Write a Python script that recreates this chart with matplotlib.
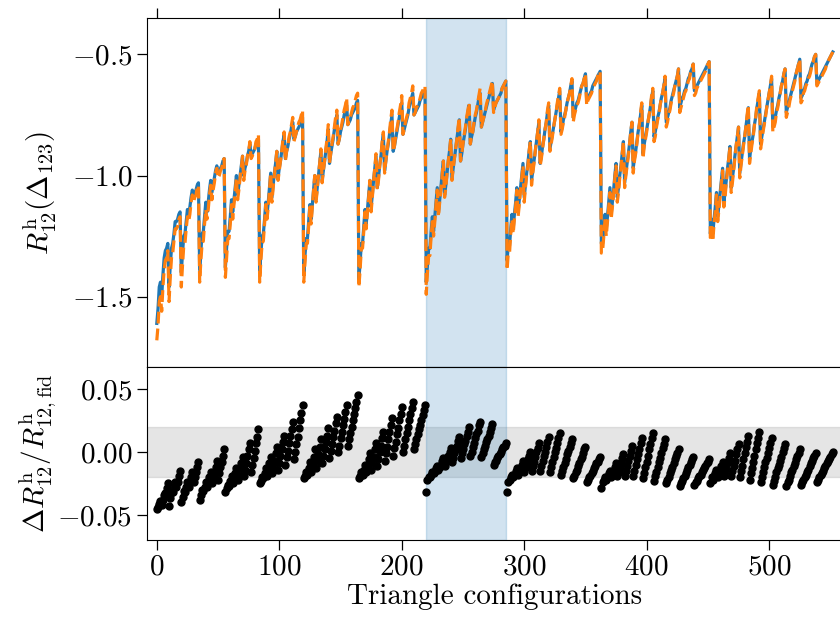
import matplotlib
matplotlib.use("Agg")
import matplotlib.pyplot as plt
import numpy as np

plt.rcParams.update({
    "font.family": "serif",
    "font.serif": ["cmr10"],
    "mathtext.fontset": "cm",
    "axes.formatter.use_mathtext": True,
    "font.size": 21,
})

# one inner list per k1 bin, triangles ordered by k2 then k3
r12_model = [
    [-1.61],
    [-1.55, -1.46, -1.44],
    [-1.50, -1.41, -1.34, -1.31, -1.30, -1.28],
    [-1.46, -1.37, -1.30, -1.28, -1.24, -1.19, -1.19, -1.18, -1.16, -1.15],
    [-1.40, -1.32, -1.25, -1.24, -1.19, -1.14, -1.16, -1.13, -1.09, -1.06, -1.08, -1.07, -1.06, -1.04, -1.03],
    [-1.39, -1.31, -1.24, -1.23, -1.17, -1.11, -1.15, -1.11, -1.06, -1.02, -1.07, -1.04, -1.01, -0.98, -0.96,
     -0.99, -0.98, -0.97, -0.96, -0.94, -0.93],
    [-1.38, -1.30, -1.23, -1.23, -1.17, -1.10, -1.15, -1.10, -1.05, -1.00, -1.08, -1.04, -1.00, -0.96, -0.92,
     -1.00, -0.97, -0.95, -0.92, -0.90, -0.87, -0.92, -0.91, -0.90, -0.89, -0.87, -0.86, -0.85],
    [-1.40, -1.32, -1.25, -1.24, -1.18, -1.11, -1.16, -1.11, -1.05, -0.99, -1.09, -1.04, -0.99, -0.95, -0.90,
     -1.01, -0.97, -0.94, -0.90, -0.86, -0.83, -0.93, -0.90, -0.88, -0.85, -0.83, -0.80, -0.78, -0.85, -0.84,
     -0.82, -0.81, -0.80, -0.79, -0.77, -0.76],
    [-1.41, -1.33, -1.26, -1.26, -1.19, -1.12, -1.18, -1.12, -1.06, -1.00, -1.10, -1.05, -1.00, -0.95, -0.90,
     -1.02, -0.98, -0.94, -0.90, -0.86, -0.81, -0.95, -0.91, -0.88, -0.85, -0.81, -0.78, -0.75, -0.87, -0.85,
     -0.82, -0.80, -0.78, -0.75, -0.73, -0.71, -0.79, -0.78, -0.77, -0.75, -0.74, -0.73, -0.72, -0.70, -0.69],
    [-1.43, -1.36, -1.28, -1.28, -1.21, -1.14, -1.20, -1.14, -1.08, -1.02, -1.13, -1.08, -1.02, -0.97, -0.92,
     -1.05, -1.01, -0.96, -0.92, -0.87, -0.83, -0.98, -0.94, -0.90, -0.87, -0.83, -0.79, -0.75, -0.90, -0.88,
     -0.85, -0.82, -0.79, -0.76, -0.73, -0.70, -0.83, -0.81, -0.79, -0.77, -0.75, -0.72, -0.70, -0.68, -0.66,
     -0.75, -0.74, -0.73, -0.72, -0.71, -0.69, -0.68, -0.67, -0.66, -0.65],
    [-1.44, -1.37, -1.30, -1.30, -1.23, -1.17, -1.23, -1.17, -1.11, -1.05, -1.15, -1.10, -1.05, -0.99, -0.94,
     -1.08, -1.04, -0.99, -0.94, -0.90, -0.85, -1.01, -0.97, -0.93, -0.89, -0.85, -0.81, -0.77, -0.94, -0.91,
     -0.87, -0.84, -0.81, -0.77, -0.74, -0.71, -0.87, -0.84, -0.82, -0.79, -0.76, -0.74, -0.71, -0.68, -0.66,
     -0.80, -0.78, -0.76, -0.74, -0.72, -0.70, -0.68, -0.66, -0.64, -0.62, -0.73, -0.71, -0.70, -0.69, -0.68,
     -0.67, -0.66, -0.64, -0.63, -0.62, -0.61],
    [-1.35, -1.29, -1.29, -1.22, -1.16, -1.22, -1.16, -1.11, -1.05, -1.15, -1.10, -1.05, -1.00, -0.95, -1.09,
     -1.04, -0.99, -0.95, -0.90, -0.86, -1.02, -0.98, -0.94, -0.90, -0.86, -0.82, -0.78, -0.95, -0.92, -0.88,
     -0.85, -0.81, -0.78, -0.74, -0.71, -0.89, -0.86, -0.83, -0.80, -0.77, -0.74, -0.71, -0.68, -0.65, -0.82,
     -0.80, -0.77, -0.75, -0.73, -0.70, -0.68, -0.66, -0.63, -0.61, -0.76, -0.74, -0.72, -0.70, -0.69, -0.67,
     -0.65, -0.63, -0.62, -0.60, -0.58, -0.69, -0.68, -0.67, -0.66, -0.65, -0.63, -0.62, -0.61, -0.60, -0.59,
     -0.58, -0.57],
    [-1.28, -1.28, -1.22, -1.16, -1.22, -1.17, -1.11, -1.05, -1.16, -1.11, -1.06, -1.00, -0.95, -1.09, -1.05,
     -1.00, -0.96, -0.91, -0.86, -1.03, -0.99, -0.95, -0.91, -0.87, -0.82, -0.78, -0.97, -0.93, -0.90, -0.86,
     -0.82, -0.79, -0.75, -0.71, -0.91, -0.87, -0.84, -0.81, -0.78, -0.75, -0.72, -0.68, -0.65, -0.84, -0.82,
     -0.79, -0.76, -0.74, -0.71, -0.68, -0.66, -0.63, -0.60, -0.78, -0.76, -0.74, -0.72, -0.69, -0.67, -0.65,
     -0.63, -0.61, -0.59, -0.56, -0.72, -0.70, -0.68, -0.67, -0.65, -0.64, -0.62, -0.60, -0.59, -0.57, -0.56,
     -0.54, -0.65, -0.64, -0.63, -0.62, -0.61, -0.60, -0.59, -0.58, -0.57, -0.56, -0.55, -0.54, -0.53],
    [-1.24, -1.18, -1.24, -1.18, -1.13, -1.07, -1.17, -1.12, -1.07, -1.02, -0.97, -1.11, -1.07, -1.02, -0.97,
     -0.93, -0.88, -1.05, -1.01, -0.97, -0.92, -0.88, -0.84, -0.80, -0.99, -0.95, -0.91, -0.87, -0.84, -0.80,
     -0.76, -0.72, -0.93, -0.89, -0.86, -0.83, -0.79, -0.76, -0.72, -0.69, -0.66, -0.87, -0.84, -0.81, -0.78,
     -0.75, -0.72, -0.69, -0.66, -0.63, -0.60, -0.80, -0.78, -0.76, -0.73, -0.71, -0.68, -0.66, -0.63, -0.61,
     -0.58, -0.56, -0.74, -0.72, -0.70, -0.68, -0.66, -0.64, -0.62, -0.60, -0.58, -0.56, -0.54, -0.52, -0.68,
     -0.67, -0.65, -0.64, -0.62, -0.61, -0.59, -0.58, -0.56, -0.54, -0.53, -0.51, -0.50, -0.62, -0.61, -0.60,
     -0.59, -0.58, -0.57, -0.56, -0.55, -0.54, -0.53, -0.52, -0.51, -0.50, -0.49],
]

r12_fid = [
    [-1.68],
    [-1.62, -1.52, -1.50],
    [-1.56, -1.46, -1.39, -1.35, -1.34, -1.31],
    [-1.52, -1.42, -1.34, -1.32, -1.27, -1.22, -1.22, -1.21, -1.18, -1.17],
    [-1.46, -1.37, -1.29, -1.28, -1.22, -1.17, -1.19, -1.16, -1.11, -1.08, -1.11, -1.09, -1.08, -1.05, -1.04],
    [-1.44, -1.35, -1.28, -1.27, -1.20, -1.14, -1.18, -1.14, -1.08, -1.04, -1.10, -1.06, -1.03, -0.99, -0.97,
     -1.01, -1.00, -0.98, -0.97, -0.94, -0.93],
    [-1.42, -1.34, -1.26, -1.26, -1.20, -1.12, -1.18, -1.12, -1.07, -1.01, -1.10, -1.06, -1.01, -0.97, -0.92,
     -1.02, -0.98, -0.96, -0.92, -0.90, -0.86, -0.93, -0.92, -0.90, -0.89, -0.86, -0.85, -0.83],
    [-1.44, -1.35, -1.28, -1.27, -1.20, -1.12, -1.18, -1.13, -1.06, -0.99, -1.11, -1.05, -1.00, -0.95, -0.90,
     -1.02, -0.98, -0.94, -0.90, -0.85, -0.82, -0.94, -0.90, -0.88, -0.84, -0.82, -0.79, -0.76, -0.86, -0.84,
     -0.82, -0.80, -0.78, -0.77, -0.75, -0.73],
    [-1.44, -1.36, -1.28, -1.28, -1.21, -1.13, -1.20, -1.13, -1.06, -1.00, -1.11, -1.06, -1.00, -0.95, -0.89,
     -1.03, -0.98, -0.94, -0.89, -0.85, -0.79, -0.95, -0.91, -0.87, -0.84, -0.80, -0.76, -0.73, -0.87, -0.85,
     -0.81, -0.79, -0.76, -0.73, -0.71, -0.68, -0.79, -0.77, -0.76, -0.74, -0.72, -0.71, -0.69, -0.67, -0.66],
    [-1.46, -1.39, -1.30, -1.30, -1.23, -1.15, -1.22, -1.15, -1.09, -1.02, -1.15, -1.09, -1.02, -0.97, -0.91,
     -1.06, -1.02, -0.96, -0.92, -0.86, -0.82, -0.99, -0.94, -0.90, -0.86, -0.82, -0.77, -0.73, -0.90, -0.88,
     -0.84, -0.81, -0.78, -0.74, -0.71, -0.67, -0.83, -0.81, -0.78, -0.76, -0.74, -0.70, -0.68, -0.66, -0.63,
     -0.75, -0.74, -0.72, -0.71, -0.70, -0.68, -0.66, -0.65, -0.64, -0.63],
    [-1.49, -1.40, -1.33, -1.33, -1.25, -1.19, -1.25, -1.19, -1.12, -1.06, -1.17, -1.11, -1.06, -1.00, -0.94,
     -1.09, -1.05, -0.99, -0.94, -0.90, -0.85, -1.02, -0.97, -0.93, -0.89, -0.85, -0.80, -0.76, -0.94, -0.91,
     -0.87, -0.83, -0.80, -0.76, -0.73, -0.70, -0.87, -0.84, -0.82, -0.78, -0.75, -0.73, -0.70, -0.67, -0.64,
     -0.80, -0.78, -0.76, -0.74, -0.71, -0.69, -0.67, -0.65, -0.63, -0.61, -0.74, -0.72, -0.70, -0.69, -0.68,
     -0.67, -0.66, -0.64, -0.63, -0.62, -0.61],
    [-1.39, -1.32, -1.32, -1.24, -1.18, -1.24, -1.18, -1.13, -1.06, -1.17, -1.12, -1.06, -1.01, -0.96, -1.11,
     -1.05, -1.00, -0.96, -0.90, -0.86, -1.04, -0.99, -0.95, -0.90, -0.86, -0.82, -0.77, -0.96, -0.93, -0.89,
     -0.85, -0.81, -0.78, -0.73, -0.70, -0.90, -0.87, -0.84, -0.80, -0.77, -0.74, -0.70, -0.67, -0.64, -0.83,
     -0.81, -0.78, -0.76, -0.73, -0.70, -0.68, -0.66, -0.63, -0.60, -0.78, -0.75, -0.73, -0.71, -0.70, -0.68,
     -0.65, -0.63, -0.62, -0.60, -0.58, -0.71, -0.69, -0.68, -0.67, -0.66, -0.64, -0.63, -0.62, -0.61, -0.59,
     -0.58, -0.57],
    [-1.32, -1.31, -1.25, -1.18, -1.25, -1.19, -1.13, -1.07, -1.18, -1.13, -1.08, -1.01, -0.96, -1.11, -1.07,
     -1.01, -0.97, -0.91, -0.86, -1.05, -1.00, -0.96, -0.92, -0.87, -0.82, -0.78, -0.99, -0.94, -0.91, -0.87,
     -0.82, -0.79, -0.74, -0.70, -0.93, -0.88, -0.85, -0.82, -0.78, -0.75, -0.72, -0.67, -0.64, -0.86, -0.84,
     -0.80, -0.77, -0.75, -0.71, -0.68, -0.66, -0.63, -0.59, -0.80, -0.78, -0.75, -0.73, -0.70, -0.68, -0.66,
     -0.63, -0.61, -0.59, -0.56, -0.74, -0.72, -0.70, -0.68, -0.66, -0.65, -0.63, -0.61, -0.60, -0.57, -0.56,
     -0.54, -0.67, -0.66, -0.64, -0.63, -0.62, -0.61, -0.60, -0.59, -0.58, -0.57, -0.55, -0.54, -0.53],
    [-1.27, -1.20, -1.27, -1.20, -1.15, -1.08, -1.19, -1.14, -1.09, -1.03, -0.98, -1.13, -1.09, -1.03, -0.98,
     -0.93, -0.88, -1.07, -1.03, -0.98, -0.93, -0.88, -0.84, -0.80, -1.01, -0.96, -0.92, -0.88, -0.84, -0.80,
     -0.75, -0.71, -0.95, -0.91, -0.87, -0.84, -0.79, -0.76, -0.71, -0.68, -0.65, -0.89, -0.86, -0.82, -0.79,
     -0.76, -0.72, -0.69, -0.66, -0.63, -0.59, -0.82, -0.80, -0.78, -0.74, -0.72, -0.69, -0.66, -0.63, -0.61,
     -0.58, -0.56, -0.76, -0.74, -0.72, -0.69, -0.67, -0.65, -0.63, -0.61, -0.58, -0.56, -0.54, -0.52, -0.70,
     -0.69, -0.66, -0.65, -0.63, -0.62, -0.60, -0.59, -0.57, -0.54, -0.53, -0.51, -0.50, -0.63, -0.62, -0.61,
     -0.60, -0.59, -0.58, -0.57, -0.56, -0.54, -0.53, -0.52, -0.51, -0.50, -0.49],
]

rel_diff = [
    [-0.045],
    [-0.044, -0.041, -0.039],
    [-0.042, -0.038, -0.034, -0.033, -0.029, -0.025],
    [-0.043, -0.037, -0.033, -0.032, -0.028, -0.024, -0.028, -0.024, -0.019, -0.015],
    [-0.040, -0.036, -0.031, -0.032, -0.028, -0.024, -0.028, -0.024, -0.020, -0.016, -0.024, -0.020, -0.016,
     -0.012, -0.008],
    [-0.038, -0.034, -0.030, -0.031, -0.028, -0.024, -0.028, -0.024, -0.020, -0.016, -0.025, -0.021, -0.016,
     -0.012, -0.007, -0.022, -0.017, -0.012, -0.008, -0.003, 0.002],
    [-0.032, -0.029, -0.026, -0.027, -0.023, -0.019, -0.025, -0.021, -0.017, -0.013, -0.022, -0.018, -0.013,
     -0.009, -0.004, -0.019, -0.014, -0.009, -0.003, 0.002, 0.007, -0.016, -0.010, -0.005, 0.001, 0.007,
     0.012, 0.018],
    [-0.025, -0.023, -0.020, -0.021, -0.017, -0.013, -0.019, -0.014, -0.009, -0.004, -0.017, -0.012, -0.007,
     -0.001, 0.004, -0.014, -0.009, -0.003, 0.002, 0.008, 0.013, -0.010, -0.004, 0.001, 0.007, 0.013, 0.018,
     0.024, -0.006, 0.000, 0.006, 0.012, 0.019, 0.025, 0.031, 0.037],
    [-0.021, -0.019, -0.016, -0.018, -0.013, -0.008, -0.016, -0.010, -0.004, 0.002, -0.013, -0.007, -0.002,
     0.004, 0.010, -0.009, -0.003, 0.002, 0.008, 0.013, 0.019, -0.005, 0.001, 0.006, 0.012, 0.017, 0.023,
     0.028, 0.000, 0.005, 0.011, 0.016, 0.021, 0.026, 0.032, 0.037, 0.005, 0.010, 0.015, 0.020, 0.025, 0.030,
     0.035, 0.040, 0.045],
    [-0.021, -0.019, -0.016, -0.018, -0.014, -0.010, -0.016, -0.011, -0.006, -0.001, -0.014, -0.009, -0.004,
     0.002, 0.007, -0.011, -0.006, 0.000, 0.005, 0.011, 0.016, -0.007, -0.001, 0.004, 0.010, 0.016, 0.021,
     0.027, -0.003, 0.003, 0.008, 0.014, 0.019, 0.025, 0.030, 0.036, 0.000, 0.005, 0.010, 0.015, 0.020, 0.025,
     0.030, 0.035, 0.040, 0.002, 0.006, 0.010, 0.014, 0.018, 0.021, 0.025, 0.029, 0.033, 0.037],
    [-0.032, -0.022, -0.020, -0.020, -0.018, -0.016, -0.017, -0.015, -0.013, -0.011, -0.014, -0.012, -0.010,
     -0.007, -0.005, -0.011, -0.008, -0.005, -0.003, 0.000, 0.003, -0.008, -0.005, -0.001, 0.002, 0.005, 0.009,
     0.012, -0.005, -0.001, 0.002, 0.006, 0.009, 0.013, 0.016, 0.020, -0.003, 0.000, 0.004, 0.007, 0.011,
     0.014, 0.017, 0.021, 0.024, -0.004, -0.001, 0.002, 0.005, 0.008, 0.010, 0.013, 0.016, 0.019, 0.022,
     -0.010, -0.008, -0.007, -0.005, -0.003, -0.002, 0.000, 0.002, 0.004, 0.005, 0.007],
    [-0.032, -0.024, -0.022, -0.020, -0.018, -0.020, -0.018, -0.015, -0.013, -0.018, -0.015, -0.013, -0.010,
     -0.007, -0.016, -0.013, -0.010, -0.006, -0.003, 0.000, -0.015, -0.011, -0.008, -0.004, 0.000, 0.003, 0.007,
     -0.015, -0.011, -0.007, -0.003, 0.000, 0.004, 0.008, 0.012, -0.016, -0.012, -0.008, -0.004, 0.000, 0.003,
     0.007, 0.011, 0.015, -0.018, -0.015, -0.012, -0.009, -0.006, -0.002, 0.001, 0.004, 0.007, 0.010, -0.021,
     -0.019, -0.016, -0.014, -0.011, -0.009, -0.006, -0.004, -0.001, 0.002, 0.004, -0.024, -0.022, -0.020,
     -0.019, -0.017, -0.015, -0.013, -0.011, -0.009, -0.008, -0.006, -0.004],
    [-0.029, -0.024, -0.022, -0.020, -0.022, -0.020, -0.017, -0.015, -0.020, -0.017, -0.015, -0.012, -0.009,
     -0.019, -0.016, -0.012, -0.009, -0.005, -0.002, -0.019, -0.015, -0.011, -0.007, -0.003, 0.001, 0.005,
     -0.019, -0.015, -0.010, -0.006, -0.002, 0.002, 0.007, 0.011, -0.021, -0.017, -0.012, -0.008, -0.003, 0.002,
     0.006, 0.011, 0.015, -0.023, -0.019, -0.016, -0.012, -0.008, -0.005, -0.001, 0.003, 0.006, 0.010, -0.025,
     -0.022, -0.020, -0.017, -0.014, -0.012, -0.009, -0.006, -0.003, -0.001, 0.002, -0.027, -0.025, -0.023,
     -0.021, -0.019, -0.017, -0.014, -0.012, -0.010, -0.008, -0.006, -0.004, -0.026, -0.024, -0.023, -0.021,
     -0.019, -0.018, -0.016, -0.014, -0.013, -0.011, -0.009, -0.008, -0.006],
    [-0.025, -0.020, -0.022, -0.019, -0.017, -0.014, -0.020, -0.017, -0.014, -0.011, -0.008, -0.019, -0.015,
     -0.012, -0.008, -0.005, -0.001, -0.019, -0.015, -0.011, -0.007, -0.002, 0.002, 0.006, -0.020, -0.015,
     -0.011, -0.006, -0.001, 0.004, 0.008, 0.013, -0.022, -0.017, -0.013, -0.008, -0.003, 0.002, 0.007, 0.011,
     0.016, -0.024, -0.020, -0.016, -0.012, -0.008, -0.005, -0.001, 0.003, 0.007, 0.011, -0.026, -0.023,
     -0.020, -0.016, -0.013, -0.010, -0.007, -0.004, 0.000, 0.003, 0.006, -0.027, -0.024, -0.022, -0.019,
     -0.016, -0.014, -0.011, -0.009, -0.006, -0.003, -0.001, 0.002, -0.026, -0.024, -0.022, -0.020, -0.018,
     -0.016, -0.014, -0.011, -0.009, -0.007, -0.005, -0.003, -0.001, -0.024, -0.022, -0.020, -0.018, -0.017,
     -0.015, -0.013, -0.011, -0.009, -0.007, -0.006, -0.004, -0.002, 0.000],
]

highlight = (220, 285)   # k1 bin shown in blue
tolerance = 0.02

model = np.concatenate(r12_model)
fid = np.concatenate(r12_fid)
diff = np.concatenate(rel_diff)

fig = plt.figure(figsize=(8.4, 6.17), dpi=100)
ax1 = fig.add_axes([0.175, 0.4052, 0.8274, 0.5656])
ax2 = fig.add_axes([0.175, 0.1248, 0.8274, 0.2804])

ax1.plot(np.arange(len(model)), model, color='C0', lw=2.3)
ax1.plot(np.arange(len(fid)), fid, color='C1', lw=2.3, ls='--')
ax1.axvspan(*highlight, color='C0', alpha=0.2)

ax2.axhspan(-tolerance, tolerance, color='grey', alpha=0.2)
ax2.axvspan(*highlight, color='C0', alpha=0.2)
ax2.plot(np.arange(len(diff)), diff, 'o', color='k', ms=5, zorder=3)

for ax in (ax1, ax2):
    ax.set_xlim(-8, 559.5)
    ax.set_xticks([0, 100, 200, 300, 400, 500])
    ax.tick_params(direction='out', length=7, width=0.9)

ax1.set_ylim(-1.79, -0.35)
ax1.set_yticks([-1.5, -1.0, -0.5])
ax1.tick_params(axis='x', bottom=False, labelbottom=False, top=True, labeltop=False)

ax2.set_ylim(-0.07, 0.0675)
ax2.set_yticks([-0.05, 0.0, 0.05])
ax2.yaxis.set_major_formatter(matplotlib.ticker.FuncFormatter(lambda v, pos: r'$%.2f$' % v))

ax1.set_ylabel(r'$R^{\rm h}_{12}(\Delta_{123})$')
ax2.set_ylabel(r'$\Delta R^{\rm h}_{12}/R^{\rm h}_{12,{\rm fid}}$')
ax2.set_xlabel('Triangle configurations', labelpad=2)
ax1.yaxis.set_label_coords(-0.126, 0.5)
ax2.yaxis.set_label_coords(-0.126, 0.5)

fig.savefig('out.png', dpi=100)
